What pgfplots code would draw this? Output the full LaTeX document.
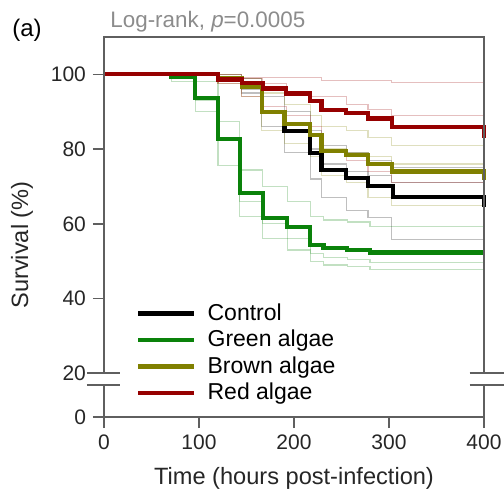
\documentclass[border=0pt]{standalone}
\usepackage{fontspec}
\setmainfont{Liberation Sans}
\usepackage{pgfplots}
\pgfplotsset{compat=1.18}

\definecolor{galg}{RGB}{10,130,10}
\definecolor{balg}{RGB}{128,128,0}
\definecolor{ralg}{RGB}{150,0,0}
\definecolor{axgray}{RGB}{95,95,95}
\definecolor{titlegray}{RGB}{140,140,140}

\pgfplotsset{
  rep/.style={const plot, line width=0.6pt, opacity=0.25, forget plot},
  km/.style={const plot, line width=2.1pt},
}

\begin{document}
\begin{tikzpicture}
\useasboundingbox (-52pt,-36pt) rectangle (200pt,208.5pt);
\begin{axis}[
  scale only axis, width=190pt, height=190pt,
  xmin=0, xmax=400, ymin=8.3, ymax=110,
  axis line style={draw=none},
  clip=false,
  xtick={0,100,200,300,400},
  ytick={8.3,20,40,60,80,100}, yticklabels={0,20,40,60,80,100},
  tick pos=left, tick align=outside,
  major tick length=5.5pt,
  tick style={axgray, line width=0.8pt},
  ticklabel style={font=\fontsize{10.5}{12}\selectfont, text=black!85},
  /pgf/number format/assume math mode=true,
  legend style={draw=none, fill=none, at={(0.068,0.313)}, anchor=north west,
    font=\fontsize{11.5}{13}\selectfont, row sep=2.2pt,
    nodes={inner sep=0.6pt},
    /tikz/every odd column/.append style={column sep=5pt}},
  legend cell align=left,
  legend image code/.code={\draw[#1] (0pt,0pt) -- (28pt,0pt);},
]
% replicate curves (thin, faint)
\addplot[rep, black] coordinates {(0,100) (145,98.8) (166,94) (190,90) (217,85) (229,81) (255,79) (278,77) (303,75) (400,75)};
\addplot[rep, black] coordinates {(0,100) (120,98) (145,96) (166,90) (190,85) (217,80) (229,76) (255,74) (278,73) (303,71) (400,71)};
\addplot[rep, black] coordinates {(0,100) (120,98.5) (145,95) (166,86) (190,79) (217,72) (229,67) (255,63.5) (278,61.6) (303,55.7) (400,55.7)};
\addplot[rep, galg] coordinates {(0,100) (96,98) (120,87.3) (143,74.4) (167,70) (193,66) (217,62) (231,61) (256,60.5) (280,59.2) (400,59.2)};
\addplot[rep, galg] coordinates {(0,100) (71,99) (96,93) (120,83) (143,66) (167,60) (193,56) (217,52) (231,51) (256,50.5) (280,49.6) (400,49.6)};
\addplot[rep, galg] coordinates {(0,100) (71,98) (96,90) (120,75.7) (143,62) (167,56) (193,53) (217,50) (231,49) (256,48.5) (280,47.7) (400,47.7)};
\addplot[rep, balg] coordinates {(0,100) (145,99) (166,95) (190,92) (217,89) (229,86) (255,85) (278,83) (303,81) (400,81)};
\addplot[rep, balg] coordinates {(0,100) (120,99) (145,97) (166,90) (190,87) (217,84) (229,80) (255,79) (278,78) (303,76) (400,76)};
\addplot[rep, balg] coordinates {(0,100) (120,97.5) (145,94) (166,85) (190,81.5) (217,78) (229,73) (255,71) (278,67) (303,65) (400,65)};
\addplot[rep, ralg] coordinates {(0,100) (145,99.2) (229,98.3) (303,97.8) (400,97.8)};
\addplot[rep, ralg] coordinates {(0,100) (120,99) (167,97.5) (192,95.5) (217,94) (255,92) (278,90.5) (303,89) (400,89)};
\addplot[rep, ralg] coordinates {(0,100) (120,97.5) (145,94) (167,91.5) (192,89) (217,86) (229,79) (255,77) (278,74) (303,71) (400,71)};
% pooled Kaplan-Meier curves
\addplot[km, black] coordinates {(0,100) (120,98.9) (145,96.6) (166,89.9) (190,84.9) (217,79.0) (229,74.4) (255,72.2) (278,70.1) (304,67.2) (400,67.2) (400,64.5)};
\addplot[km, galg] coordinates {(0,100) (71,99.3) (96,93.7) (120,82.7) (143,68.3) (167,61.6) (193,59.2) (217,54.4) (231,53.6) (256,53.1) (280,52.3) (400,52.3)};
\addplot[km, balg] coordinates {(0,100) (120,98.9) (145,96.6) (166,89.9) (190,86.8) (217,83.7) (229,79.5) (255,78.4) (278,76.0) (303,74.0) (400,74.0) (400,71.8)};
\addplot[km, ralg] coordinates {(0,100) (120,98.6) (145,97.6) (167,96.2) (192,94.9) (217,92.9) (229,90.4) (255,89.7) (278,88.2) (303,86.0) (400,86.0) (400,82.9)};
\legend{Control, Green algae, Brown algae, Red algae}
% frame with axis breaks
\draw[axgray, line width=0.8pt] (axis cs:0,20) -- (axis cs:0,110) -- (axis cs:400,110) -- (axis cs:400,20);
\draw[axgray, line width=0.8pt] (axis cs:0,16.8) -- (axis cs:0,8.3) -- (axis cs:400,8.3) -- (axis cs:400,16.8);
\draw[axgray, line width=0.8pt] (axis cs:-17.9,20) -- (axis cs:16.8,20);
\draw[axgray, line width=0.8pt] (axis cs:-17.9,16.8) -- (axis cs:16.8,16.8);
\draw[axgray, line width=0.8pt] (axis cs:385,20) -- (axis cs:422,20);
\draw[axgray, line width=0.8pt] (axis cs:385,16.8) -- (axis cs:422,16.8);
\end{axis}
\node[font=\fontsize{12}{14}\selectfont] at (-38.5pt,193.5pt) {(a)};
\node[font=\fontsize{11.2}{13}\selectfont, text=titlegray, anchor=west, inner sep=0pt] at (3pt,197.5pt) {Log-rank, \textit{p}=0.0005};
\node[font=\fontsize{11.8}{14}\selectfont, text=black!85] at (95pt,-30.5pt) {Time (hours post-infection)};
\node[font=\fontsize{11.8}{14}\selectfont, text=black!85, rotate=90] at (-41pt,86pt) {Survival (\%)};
\end{tikzpicture}
\end{document}
